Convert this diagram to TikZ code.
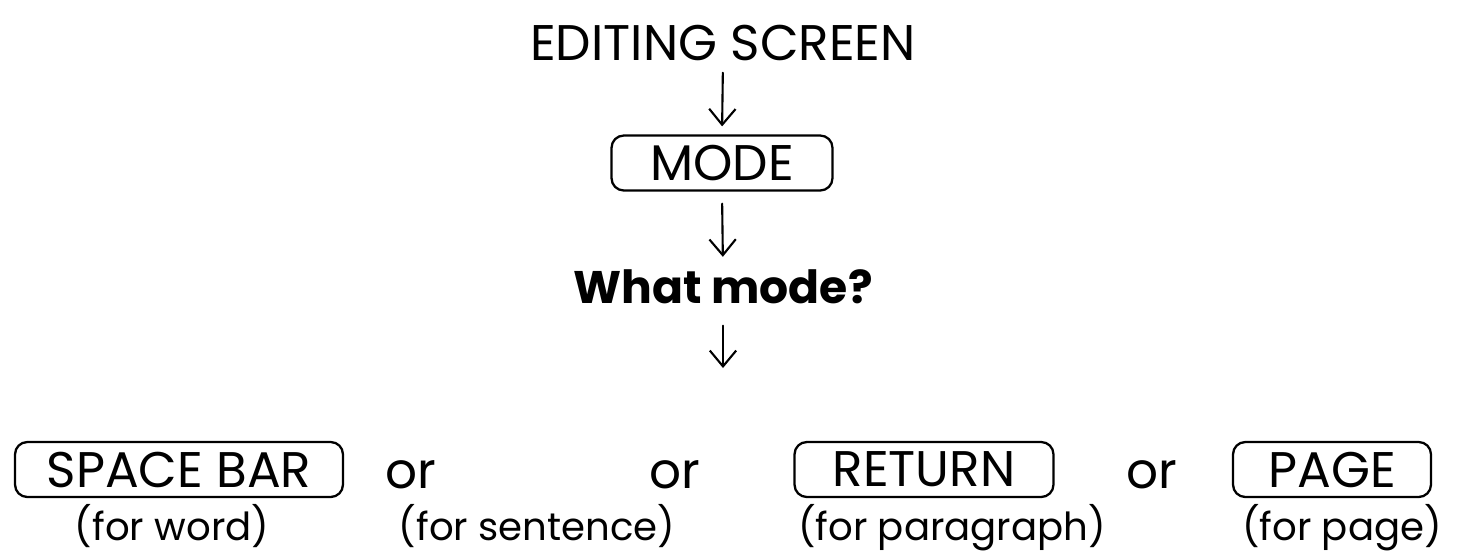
\documentclass[tikz,border=0pt]{standalone}
\usepackage{fontspec}
\setmainfont{Poppins}
\usetikzlibrary{arrows.meta}

\begin{document}
\begin{tikzpicture}[x=0.02cm, y=-0.02cm, >={Straight Barb[length=9pt,width=15pt]},
    line join=round, line cap=round,
    txt/.style={inner sep=0pt, anchor=base, font=\fontsize{28.5}{32}\selectfont},
    keycap/.style={draw, line width=1.3pt, rounded corners=7pt, inner sep=0pt,
      minimum height=1.1cm, font=\fontsize{28.5}{32}\selectfont},
    note/.style={inner sep=0pt, anchor=base, font=\fontsize{22}{26}\selectfont},
    flow/.style={->, line width=1.2pt}]
  \useasboundingbox (0,0) rectangle (1461,556);

  % top of the chain
  \node[txt] (screen) at (723,60) {EDITING SCREEN};
  \node[keycap, minimum width=4.42cm] (mode) at (722,163) {MODE};
  \node[txt, font=\fontsize{26}{30}\selectfont\bfseries] (ask) at (723,303) {What mode?};
  \coordinate (split) at (723,368);

  % arrows
  \draw[flow, shorten <=12*0.02cm, shorten >=8*0.02cm] (screen.south) -- (mode.north);
  \draw[flow, shorten <=12*0.02cm, shorten >=12*0.02cm] (mode.south) -- (ask.north);
  \draw[flow, shorten <=22*0.02cm] (ask.south) -- (split);

  % keys
  \node[keycap, minimum width=6.56cm] (space) at (179,469.5) {SPACE BAR};
  \node[txt] (or1) at (411,488) {or};
  \node[txt] (or2) at (675,488) {or};
  \node[keycap, minimum width=5.18cm] (return) at (924,469.5) {RETURN};
  \node[txt] (or3) at (1152,488) {or};
  \node[keycap, minimum width=3.96cm] (page) at (1332,469.5) {PAGE};

  % what each key moves by
  \node[note] (word) at (172,540) {(for word)};
  \node[note] (sentence) at (537,540) {(for sentence)};
  \node[note] (paragraph) at (952,540) {(for paragraph)};
  \node[note] (pg) at (1342,540) {(for page)};
\end{tikzpicture}
\end{document}
